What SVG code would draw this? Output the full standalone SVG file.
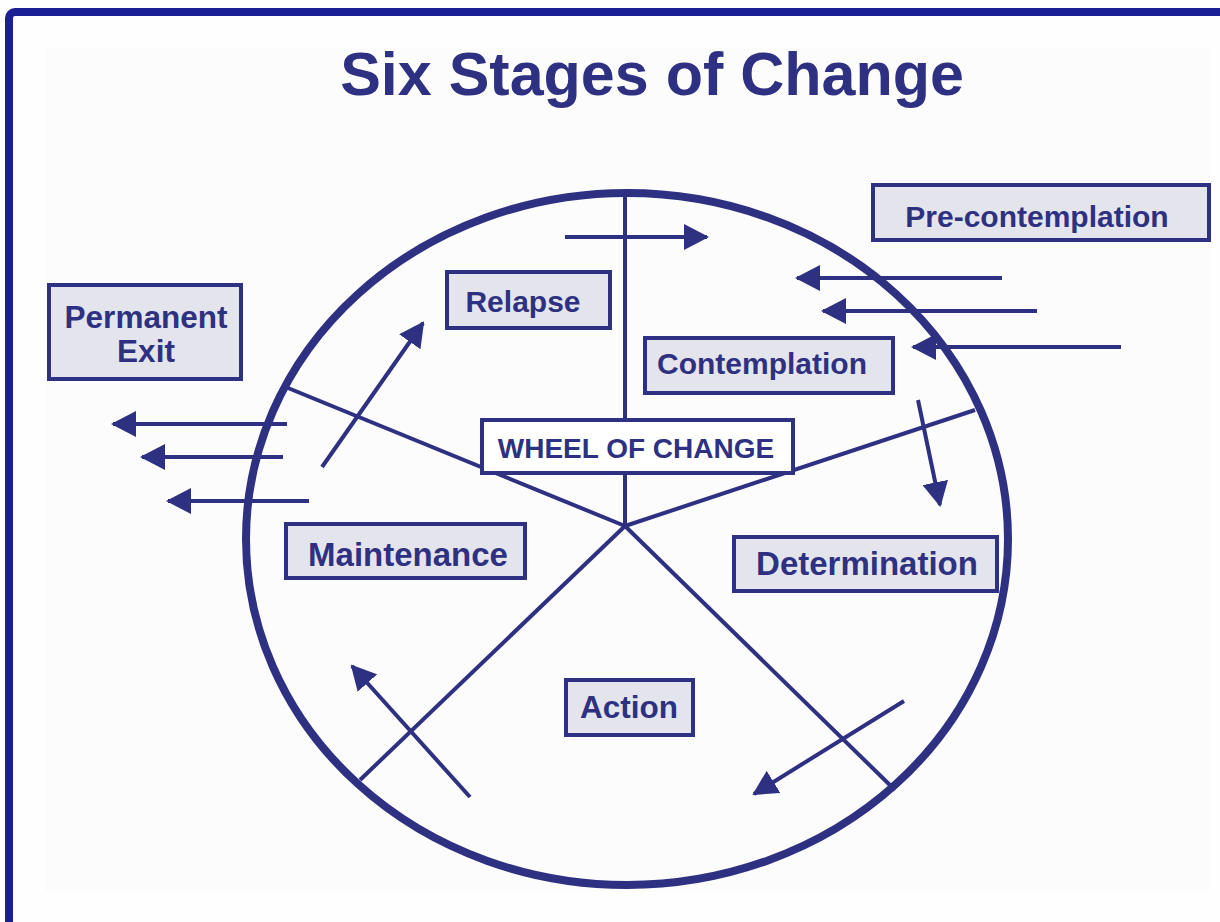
<svg xmlns="http://www.w3.org/2000/svg" width="1220" height="922" viewBox="0 0 1220 922">
<defs>
<style>
.frame{fill:none;stroke:#1b1f95;stroke-width:8}
.wheel{fill:none;stroke:#2e3182;stroke-width:8}
.spoke{stroke:#2e3182;stroke-width:4;fill:none;stroke-linecap:butt}
.arr{stroke:#2e3182;stroke-width:4;fill:none;marker-end:url(#ah)}
.box{fill:#e4e5ec;stroke:#2e3182;stroke-width:4}
.hub{fill:#ffffff;stroke:#2e3182;stroke-width:4}
.lbl{font-family:"Liberation Sans",Arial,sans-serif;font-weight:bold;font-size:30px;fill:#2e3182;text-anchor:middle}
.title{font-family:"Liberation Sans",Arial,sans-serif;font-weight:bold;font-size:61px;fill:#2e3182;text-anchor:middle}
</style>
<marker id="ah" viewBox="0 0 25 26" refX="23" refY="13" markerWidth="25" markerHeight="26" markerUnits="userSpaceOnUse" orient="auto">
<path d="M0,0 L25,13 L0,26 Z" fill="#2e3182"/>
</marker>
</defs>
<rect x="0" y="0" width="1220" height="922" fill="#fefefe"/>
<rect x="45" y="47" width="1165" height="845" fill="#fcfcfd"/>
<rect class="frame" x="9" y="12" width="1240" height="1000" rx="6"/>
<text class="title" x="652" y="95">Six Stages of Change</text>

<g id="wheel">
<ellipse class="wheel" cx="627" cy="539" rx="381" ry="346"/>
</g>

<g id="connectors">
<line class="spoke" x1="625" y1="193" x2="625" y2="526"/>
<line class="spoke" x1="288" y1="388" x2="625" y2="526"/>
<line class="spoke" x1="975" y1="410" x2="625" y2="526"/>
<line class="spoke" x1="360" y1="780" x2="625" y2="526"/>
<line class="spoke" x1="895" y1="790" x2="625" y2="526"/>
<line class="arr" x1="565" y1="237" x2="707" y2="237"/>
<line class="arr" x1="1002" y1="278" x2="797" y2="278"/>
<line class="arr" x1="1037" y1="311" x2="823" y2="311"/>
<line class="arr" x1="1121" y1="347" x2="913" y2="347"/>
<line class="arr" x1="918" y1="400" x2="940" y2="505"/>
<line class="arr" x1="904" y1="701" x2="754" y2="794"/>
<line class="arr" x1="470" y1="797" x2="352" y2="666"/>
<line class="arr" x1="322" y1="467" x2="423" y2="323"/>
<line class="arr" x1="287" y1="424" x2="113" y2="424"/>
<line class="arr" x1="283" y1="457" x2="142" y2="457"/>
<line class="arr" x1="309" y1="501" x2="168" y2="501"/>
</g>

<g id="hub">
<rect class="hub" x="482" y="420" width="311" height="53"/>
<text class="lbl" x="636" y="458" style="font-size:28px">WHEEL OF CHANGE</text>
</g>
<g id="precontemplation">
<rect class="box" x="873" y="185" width="336" height="55"/>
<text class="lbl" x="1037" y="227">Pre-contemplation</text>
</g>
<g id="contemplation">
<rect class="box" x="645" y="338" width="248" height="55"/>
<text class="lbl" x="762" y="374">Contemplation</text>
</g>
<g id="relapse">
<rect class="box" x="447" y="272" width="163" height="56"/>
<text class="lbl" x="523" y="312">Relapse</text>
</g>
<g id="permanent-exit">
<rect class="box" x="49" y="285" width="192" height="94"/>
<text class="lbl" x="146" y="328" style="font-size:31.5px">Permanent</text>
<text class="lbl" x="146" y="362" style="font-size:31.5px">Exit</text>
</g>
<g id="maintenance">
<rect class="box" x="286" y="524" width="239" height="54"/>
<text class="lbl" x="408" y="566" style="font-size:33px">Maintenance</text>
</g>
<g id="determination">
<rect class="box" x="734" y="537" width="263" height="54"/>
<text class="lbl" x="867" y="575" style="font-size:33px">Determination</text>
</g>
<g id="action">
<rect class="box" x="566" y="680" width="127" height="55"/>
<text class="lbl" x="629" y="718" style="font-size:31.5px">Action</text>
</g>
</svg>
